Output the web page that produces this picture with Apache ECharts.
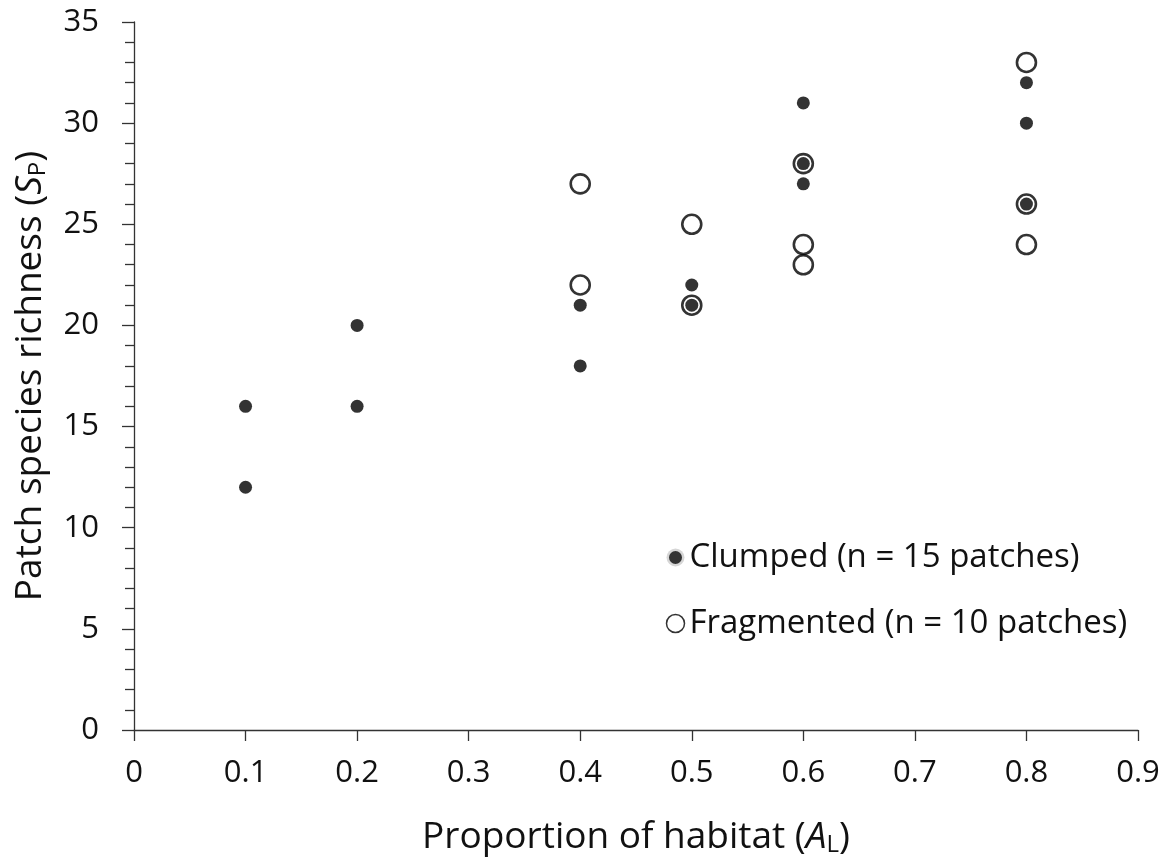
<!DOCTYPE html>
<html>
<head>
<meta charset="utf-8">
<script src="https://cdn.jsdelivr.net/npm/echarts@6/dist/echarts.min.js"></script>
<style>
  html, body { margin: 0; padding: 0; background: #fff; }
  #chart { width: 1167px; height: 861px; }
</style>
</head>
<body>
<div id="chart"></div>
<script>
// Clumped landscapes (filled dots)
var clumpedX = [0.1, 0.1, 0.2, 0.2, 0.4, 0.4, 0.5, 0.5, 0.6, 0.6, 0.6, 0.8, 0.8, 0.8];
var clumpedY = [16, 12, 20, 16, 21, 18, 22, 21, 31, 28, 27, 32, 30, 26];
// Fragmented landscapes (open circles)
var fragX = [0.4, 0.4, 0.5, 0.5, 0.6, 0.6, 0.6, 0.8, 0.8, 0.8];
var fragY = [27, 22, 25, 21, 28, 24, 23, 33, 26, 24];

var seriesNames = ["Clumped (n = 15 patches)", "Fragmented (n = 10 patches)"];

var FONT = "'Open Sans', 'Noto Sans', sans-serif";
var TXT = "#111";
var AX = "#333";

function pairs(xs, ys) {
  var out = [];
  for (var i = 0; i < xs.length; i++) out.push([xs[i], ys[i]]);
  return out;
}

var titleRich = {
  n: { fontFamily: FONT, fontSize: 37, color: TXT },
  i: { fontFamily: FONT, fontSize: 37, color: TXT, fontStyle: "italic" },
  s: { fontFamily: FONT, fontSize: 24, color: TXT, padding: [16, 0, 0, 0] }
};

var chart = echarts.init(document.getElementById("chart"));
var option = {
  animation: false,
  backgroundColor: "#fff",
  grid: { left: 134, right: 29, top: 22, bottom: 131, outerBoundsMode: "none" },
  legend: {
    orient: "vertical",
    left: 664,
    top: 541,
    padding: 0,
    itemGap: 33,
    itemWidth: 18,
    itemHeight: 18,
    textStyle: { fontFamily: FONT, fontSize: 33, color: TXT },
    data: [
      { name: seriesNames[0], icon: "circle", itemStyle: { color: "#000", borderColor: "#fff", borderWidth: 5 } },
      { name: seriesNames[1], icon: "circle", itemStyle: { color: "transparent", borderColor: "#000", borderWidth: 1.5 } }
    ]
  },
  xAxis: {
    type: "value",
    min: 0,
    max: 0.9,
    interval: 0.1,
    splitLine: { show: false },
    axisLine: { lineStyle: { color: AX, width: 1.3 } },
    axisTick: { length: 11, lineStyle: { color: AX, width: 1.3 } },
    axisLabel: {
      margin: 28,
      fontFamily: FONT,
      fontSize: 31,
      color: TXT,
      formatter: function (v) { return v === 0 ? "0" : v.toFixed(1); }
    },
    name: "{n|Proportion of habitat (}{i|A}{s|L}{n|)}",
    nameLocation: "middle",
    nameGap: 87,
    nameTextStyle: { rich: titleRich }
  },
  yAxis: {
    type: "value",
    min: 0,
    max: 35,
    interval: 5,
    splitLine: { show: false },
    axisLine: { show: true, lineStyle: { color: AX, width: 1.3 } },
    axisTick: { show: true, length: 12, lineStyle: { color: AX, width: 1.3 } },
    minorTick: { show: true, splitNumber: 5, length: 9, lineStyle: { color: AX, width: 1.3 } },
    axisLabel: {
      margin: 35,
      fontFamily: FONT,
      fontSize: 31,
      color: TXT
    },
    name: "{n|Patch species richness (}{i|S}{s|P}{n|)}",
    nameLocation: "middle",
    nameRotate: 90,
    nameGap: 84,
    nameTextStyle: { rich: titleRich }
  },
  series: [
    {
      name: seriesNames[1],
      type: "scatter",
      symbol: "circle",
      symbolSize: 19,
      z: 2,
      itemStyle: { color: "transparent", borderColor: "#000", borderWidth: 2.6 },
      data: pairs(fragX, fragY)
    },
    {
      name: seriesNames[0],
      type: "scatter",
      symbol: "circle",
      symbolSize: 13,
      z: 3,
      itemStyle: { color: "#000" },
      data: pairs(clumpedX, clumpedY)
    }
  ]
};
chart.setOption(option);
</script>
</body>
</html>
